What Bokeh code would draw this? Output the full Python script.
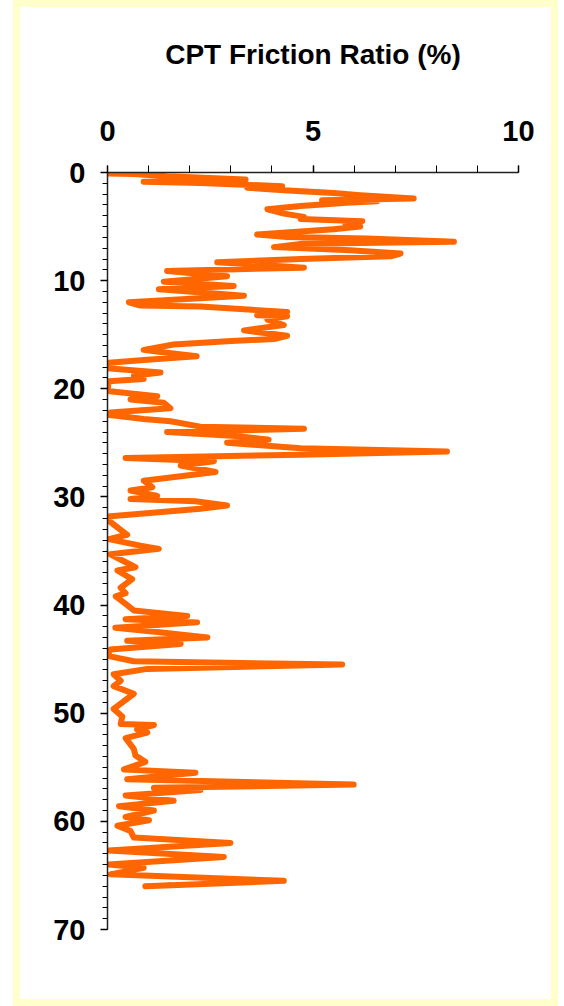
from bokeh.plotting import figure
from bokeh.models import Range1d, FixedTicker
from bokeh.embed import file_html
from bokeh.resources import INLINE

# CPT sounding: depth below ground (m) and friction ratio (%)
depth_m = [
    0.1, 0.15, 0.35, 0.65, 0.86, 0.96, 1.27, 1.4, 1.64, 1.9, 2.1, 2.4, 2.56, 2.65, 2.8,
    3.1, 3.4, 3.8, 4.1, 4.3, 4.5, 4.8, 5.0, 5.25, 5.74, 5.96, 6.1, 6.4, 6.6, 6.9,
    7.2, 7.5, 7.75, 8.0, 8.3, 8.8, 9.1, 9.6, 10.1, 10.5, 10.8, 11.4, 12.0, 12.3, 12.4,
    12.9, 13.2, 13.3, 13.6, 14.1, 14.6, 15.1, 15.4, 15.6, 15.9, 16.4, 16.6, 17.0, 17.3,
    17.6, 18.1, 18.5, 18.8, 19.1, 19.3, 20.2, 20.7, 21.0, 21.3, 21.8, 22.2, 22.4, 22.8,
    23.0, 23.5, 23.7, 24.0, 24.4, 24.7, 25.0, 25.5, 25.8, 26.1, 26.4, 26.7, 27.1, 27.7,
    28.5, 29.1, 29.4, 29.9, 30.2, 30.4, 30.8, 31.1, 31.8, 32.2, 33.5, 33.9, 34.5, 34.8,
    35.3, 36.5, 36.8, 37.6, 38.4, 38.9, 39.2, 39.9, 40.5, 41.0, 41.3, 41.6, 42.1, 42.5,
    43.0, 43.3, 43.6, 44.1, 44.7, 45.2, 45.5, 45.9, 46.4, 47.0, 47.5, 48.2, 49.6, 50.3,
    51.0, 51.1, 51.5, 51.8, 52.3, 53.3, 53.9, 54.5, 55.2, 55.5, 56.1, 56.6, 56.9, 57.1,
    57.6, 58.1, 58.6, 59.0, 59.6, 59.9, 60.4, 60.9, 61.5, 62.0, 62.7, 63.3, 64.0, 64.3,
    64.9, 65.0, 65.5, 66.0, 65.9,
]
friction_ratio = [
    0.0, 0.64, 1.45, 3.36, 0.88, 2.26, 4.25, 3.4, 4.29, 5.5, 6.15, 7.45, 5.22, 6.56, 5.83,
    4.7, 3.89, 4.29, 4.78, 4.7, 6.2, 5.79, 6.15, 5.5, 3.64, 4.37, 6.32, 8.43, 4.7, 4.05,
    5.9, 7.13, 6.89, 4.7, 2.67, 4.78, 1.45, 2.91, 1.37, 3.07, 1.25, 3.32, 0.52, 0.8, 2.26,
    4.37, 3.64, 4.37, 3.89, 4.29, 3.32, 4.37, 4.05, 2.91, 1.61, 0.88, 1.29, 2.17, 1.05,
    0.03, 0.0, 1.29, 0.64, 0.88, 0.03, 0.0, 1.21, 0.56, 1.37, 1.53, 0.07, 0.0, 0.88,
    1.53, 2.26, 4.78, 1.45, 3.24, 3.92, 2.91, 4.7, 8.26, 4.7, 0.44, 2.59, 1.78, 2.63,
    0.88, 1.09, 0.56, 1.21, 0.56, 2.14, 2.91, 2.26, 0.0, 0.03, 0.48, 0.03, 0.8, 1.25,
    0.07, 0.68, 0.24, 0.6, 0.32, 0.44, 0.2, 0.44, 0.64, 1.94, 0.44, 2.18, 0.19, 1.21,
    2.43, 0.48, 1.78, 0.07, 0.0, 0.64, 5.71, 0.97, 0.15, 0.32, 0.15, 0.64, 0.15, 0.36,
    0.32, 1.13, 0.72, 0.97, 0.44, 0.64, 0.68, 0.92, 0.4, 2.14, 0.48, 5.99, 1.13, 2.26,
    0.44, 1.61, 0.28, 1.13, 0.44, 1.01, 0.24, 0.56, 0.64, 2.99, 0.03, 2.83, 0.03, 0.88,
    0.07, 0.88, 4.29, 0.92, 1.53,
]

ratio_ticks = [0, 5, 10]
ratio_minor_ticks = list(range(0, 11))
depth_ticks = [0, 10, 20, 30, 40, 50, 60, 70]
depth_minor_ticks = list(range(0, 71))

FONT = "Liberation Sans"

p = figure(
    width=545, height=1006,
    x_range=Range1d(0, 10), y_range=Range1d(70, 0),
    x_axis_location="above",
    output_backend="svg", toolbar_location=None,
    min_border_left=87, min_border_right=47,
    min_border_top=165, min_border_bottom=84,
    background_fill_color="white", border_fill_color="white",
)
p.styles = {"border": "7px solid #FFFFCC", "margin-left": "13px"}
p.outline_line_color = None
p.xgrid.visible = False
p.ygrid.visible = False

p.line(friction_ratio, depth_m, line_color="#FF6600", line_width=6,
       line_join="round", line_cap="round")

xa = p.xaxis[0]
xa.ticker = FixedTicker(ticks=ratio_ticks, minor_ticks=ratio_minor_ticks)
xa.axis_label = "CPT Friction Ratio (%)"
xa.axis_label_text_font = FONT
xa.axis_label_text_font_style = "bold"
xa.axis_label_text_font_size = "28px"
xa.axis_label_text_color = "black"
xa.axis_label_standoff = 48

ya = p.yaxis[0]
ya.ticker = FixedTicker(ticks=depth_ticks, minor_ticks=depth_minor_ticks)

for ax in (xa, ya):
    ax.major_label_text_font = FONT
    ax.major_label_text_font_style = "bold"
    ax.major_label_text_font_size = "29px"
    ax.major_label_text_color = "black"
    ax.axis_line_color = "#222222"
    ax.axis_line_width = 1.5
    ax.major_tick_line_color = "black"
    ax.major_tick_line_width = 1.5
    ax.minor_tick_line_color = "black"
    ax.minor_tick_line_width = 1
    ax.major_tick_in = 0
    ax.minor_tick_in = 0
    ax.major_tick_out = 7

xa.minor_tick_out = 7
xa.major_label_standoff = 25
ya.minor_tick_out = 5
ya.major_label_standoff = 15

open("out.html", "w").write(file_html(p, INLINE))
